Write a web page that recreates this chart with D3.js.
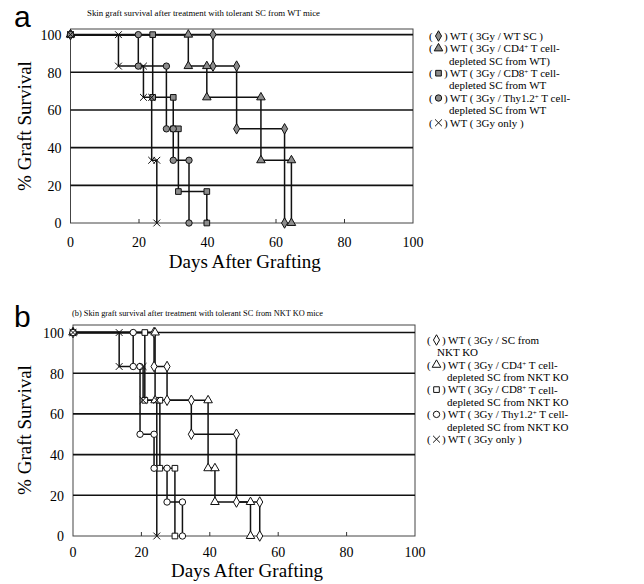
<!DOCTYPE html>
<html>
<head>
<meta charset="utf-8">
<script src="https://cdn.jsdelivr.net/npm/d3@7"></script>
<style>
body { margin: 0; background: #fff; }
svg { display: block; font-family: "Liberation Serif", "Times New Roman", serif; }
</style>
</head>
<body>
<svg id="chart" width="644" height="584"></svg>
<script>
// ---- data (days after grafting, % graft survival) ----
// panel a : tolerant SC from WT mice
var a_wtsc_days  = [0, 41.6, 48.5, 62.5];
var a_wtsc_surv  = [100, 83.3, 50, 0];
var a_cd4_days   = [0, 34.4, 39.8, 55.6, 64.5];
var a_cd4_surv   = [100, 83.3, 66.7, 33.3, 0];
var a_cd8_days   = [0, 24, 30, 31.5, 39.8];
var a_cd8_surv   = [100, 66.7, 50, 16.7, 0];
var a_thy_days   = [0, 19.8, 28, 30, 34.6];
var a_thy_surv   = [100, 83.3, 50, 33.3, 0];
var a_only_days  = [0, 14, 21.3, 23.7, 25.2];
var a_only_surv  = [100, 83.3, 66.7, 33.3, 0];

// panel b : tolerant SC from NKT KO mice
var b_nkt_days   = [0, 23.7, 27.5, 34.6, 47.8, 54.6];
var b_nkt_surv   = [100, 83.3, 66.7, 50, 16.7, 0];
var b_cd4_days   = [0, 24, 39.5, 41.5, 51.9];
var b_cd4_surv   = [100, 66.7, 33.3, 16.7, 0];
var b_cd8_days   = [0, 21, 25.4, 29.8];
var b_cd8_surv   = [100, 66.7, 33.3, 0];
var b_thy_days   = [0, 17.6, 19.6, 23.7, 27.5, 32];
var b_thy_surv   = [100, 83.3, 50, 33.3, 16.7, 0];
var b_only_days  = [0, 13.5, 20.5, 24.5];
var b_only_surv  = [100, 83.3, 66.7, 0];

var xTicks = [0, 20, 40, 60, 80, 100];
var yTicks = [0, 20, 40, 60, 80, 100];

var titleA = "Skin graft survival after treatment with tolerant SC from WT mice";
var titleB = "(b) Skin graft survival after treatment with tolerant SC from NKT KO mice";

// legend lines: [symbol or null, text]   ("^+" = superscript plus)
var legendA = [
    ["diamond", "WT ( 3Gy / WT SC )"],
    ["triangle", "WT ( 3Gy / CD4^+ T cell-"],
    [null, "depleted SC from WT)"],
    ["square", "WT ( 3Gy / CD8^+ T cell-"],
    [null, "depleted SC from WT"],
    ["circle", "WT ( 3Gy / Thy1.2^+ T cell-"],
    [null, "depleted SC from WT"],
    ["x", "WT ( 3Gy only )"]
];
var legendB = [
    ["diamond", "WT ( 3Gy /  SC from"],
    ["indent", "NKT KO"],
    ["triangle", "WT ( 3Gy / CD4^+ T cell-"],
    [null, "depleted SC from NKT KO"],
    ["square", "WT ( 3Gy / CD8^+ T cell-"],
    [null, "depleted SC from NKT KO"],
    ["circle", "WT ( 3Gy / Thy1.2^+ T cell-"],
    [null, "depleted SC from NKT  KO"],
    ["x", "WT ( 3Gy only )"]
];

var svg = d3.select("#chart");

var symbolTypes = {
    diamond: d3.symbolDiamond,
    triangle: d3.symbolTriangle,
    square: d3.symbolSquare,
    circle: d3.symbolCircle,
    x: d3.symbolTimes
};

function makeSeries(days, surv, shape) {
    return { shape: shape, pts: days.map(function(d, i) { return [d, surv[i]]; }) };
}

function drawMarker(g, shape, x, y, filled, size) {
    var p = g.append("path")
        .attr("d", d3.symbol().type(symbolTypes[shape]).size(size)())
        .attr("transform", "translate(" + x + "," + y + ")")
        .attr("stroke", "#111")
        .attr("stroke-width", 1);
    if (shape == "x") p.attr("fill", "none");
    else p.attr("fill", filled ? "#8c8c8c" : "#fff");
}

function drawPanel(cfg) {
    var x = d3.scaleLinear().domain([0, 100]).range([cfg.left, cfg.right]);
    var y = d3.scaleLinear().domain([0, cfg.yTop]).range([cfg.bottom, cfg.top]);
    var g = svg.append("g");

    // frame
    g.append("rect")
        .attr("x", cfg.left).attr("y", cfg.top)
        .attr("width", cfg.right - cfg.left).attr("height", cfg.bottom - cfg.top)
        .attr("fill", "none").attr("stroke", "#444").attr("stroke-width", 1);

    // horizontal grid
    g.selectAll("line.grid").data(yTicks.filter(function(d) { return d > 0; }))
        .enter().append("line")
        .attr("x1", cfg.left).attr("x2", cfg.right)
        .attr("y1", function(d) { return y(d); }).attr("y2", function(d) { return y(d); })
        .attr("stroke", "#111").attr("stroke-width", 1.6);

    // small inner ticks on the bottom
    g.selectAll("line.tick").data(xTicks.slice(1, -1))
        .enter().append("line")
        .attr("x1", function(d) { return x(d); }).attr("x2", function(d) { return x(d); })
        .attr("y1", cfg.bottom).attr("y2", cfg.bottom - 4)
        .attr("stroke", "#333").attr("stroke-width", 1);

    // y tick labels
    g.selectAll("text.yl").data(yTicks).enter().append("text")
        .attr("x", cfg.left - 9).attr("y", function(d) { return y(d); })
        .attr("dy", "0.38em").attr("text-anchor", "end")
        .attr("font-size", 14).text(function(d) { return d; });

    // x tick labels
    g.selectAll("text.xl").data(xTicks).enter().append("text")
        .attr("x", function(d) { return x(d); }).attr("y", cfg.bottom + cfg.xLabOff)
        .attr("dy", "0.35em").attr("text-anchor", "middle")
        .attr("font-size", 14).text(function(d) { return d; });

    // axis titles
    g.append("text")
        .attr("x", (cfg.left + cfg.right) / 2 + 3).attr("y", cfg.bottom + cfg.xTitleOff)
        .attr("text-anchor", "middle").attr("font-size", 19)
        .text("Days After Grafting");
    g.append("text")
        .attr("transform", "translate(" + 31 + "," + cfg.yTitleMid + ") rotate(-90)")
        .attr("text-anchor", "middle").attr("font-size", 19)
        .text("% Graft Survival");

    // panel letter and title
    g.append("text").attr("x", 14).attr("y", cfg.letterY)
        .attr("font-size", 30).attr("font-family", "Liberation Sans, Arial, sans-serif")
        .text(cfg.letter);
    g.append("text").attr("x", cfg.titleX).attr("y", cfg.titleY)
        .attr("font-size", 9)
        .attr("textLength", cfg.titleW).attr("lengthAdjust", "spacingAndGlyphs")
        .text(cfg.title);

    // survival step lines
    var line = d3.line()
        .x(function(d) { return x(d[0]); })
        .y(function(d) { return y(d[1]); })
        .curve(d3.curveStepAfter);

    cfg.series.forEach(function(s) {
        g.append("path").datum(s.pts)
            .attr("d", line)
            .attr("fill", "none").attr("stroke", "#111").attr("stroke-width", 1.5);
    });

    // markers at each corner of the steps
    cfg.series.forEach(function(s) {
        var pts = s.pts;
        drawMarker(g, s.shape, x(pts[0][0]), y(pts[0][1]), cfg.filled, 32);
        for (var i = 1; i < pts.length; i++) {
            drawMarker(g, s.shape, x(pts[i][0]), y(pts[i - 1][1]), cfg.filled, 32);
            drawMarker(g, s.shape, x(pts[i][0]), y(pts[i][1]), cfg.filled, 32);
        }
    });

    // legend
    var lg = svg.append("g").attr("font-size", 11);
    cfg.legend.forEach(function(row, i) {
        var ly = cfg.legendY + i * cfg.legendStep;
        var lx = cfg.legendX;
        var tx;
        if (row[0] && row[0] != "indent") {
            lg.append("text").attr("x", lx).attr("y", ly).attr("dy", "0.35em").text("(");
            drawMarker(lg, row[0], lx + 9.5, ly, cfg.filled, 32);
            lg.append("text").attr("x", lx + 15).attr("y", ly).attr("dy", "0.35em").text(")");
            tx = lx + 21;
        } else if (row[0] == "indent") {
            tx = lx + 10;
        } else {
            tx = lx + 20;
        }
        var t = lg.append("text").attr("x", tx).attr("y", ly).attr("dy", "0.35em");
        row[1].split("^+").forEach(function(part, k) {
            if (k > 0) {
                t.append("tspan").attr("font-size", 7).attr("dy", "-0.45em").text("+");
                t.append("tspan").attr("dy", "0.3em").text(part);
            } else {
                t.append("tspan").text(part);
            }
        });
    });
}

drawPanel({
    letter: "a", letterY: 27,
    title: titleA, titleX: 87, titleY: 16, titleW: 233,
    left: 70.5, right: 413, top: 29, bottom: 223, yTop: 103,
    yTitleMid: 126, xLabOff: 19, xTitleOff: 45,
    filled: true,
    series: [
        makeSeries(a_wtsc_days, a_wtsc_surv, "diamond"),
        makeSeries(a_cd4_days, a_cd4_surv, "triangle"),
        makeSeries(a_cd8_days, a_cd8_surv, "square"),
        makeSeries(a_thy_days, a_thy_surv, "circle"),
        makeSeries(a_only_days, a_only_surv, "x")
    ],
    legend: legendA, legendX: 429, legendY: 36, legendStep: 12.4
});

drawPanel({
    letter: "b", letterY: 327,
    title: titleB, titleX: 72, titleY: 316, titleW: 251,
    left: 73, right: 415, top: 325, bottom: 536, yTop: 103.7,
    yTitleMid: 430, xLabOff: 16, xTitleOff: 41,
    filled: false,
    series: [
        makeSeries(b_nkt_days, b_nkt_surv, "diamond"),
        makeSeries(b_cd4_days, b_cd4_surv, "triangle"),
        makeSeries(b_cd8_days, b_cd8_surv, "square"),
        makeSeries(b_thy_days, b_thy_surv, "circle"),
        makeSeries(b_only_days, b_only_surv, "x")
    ],
    legend: legendB, legendX: 427, legendY: 340, legendStep: 12.4
});
</script>
</body>
</html>
